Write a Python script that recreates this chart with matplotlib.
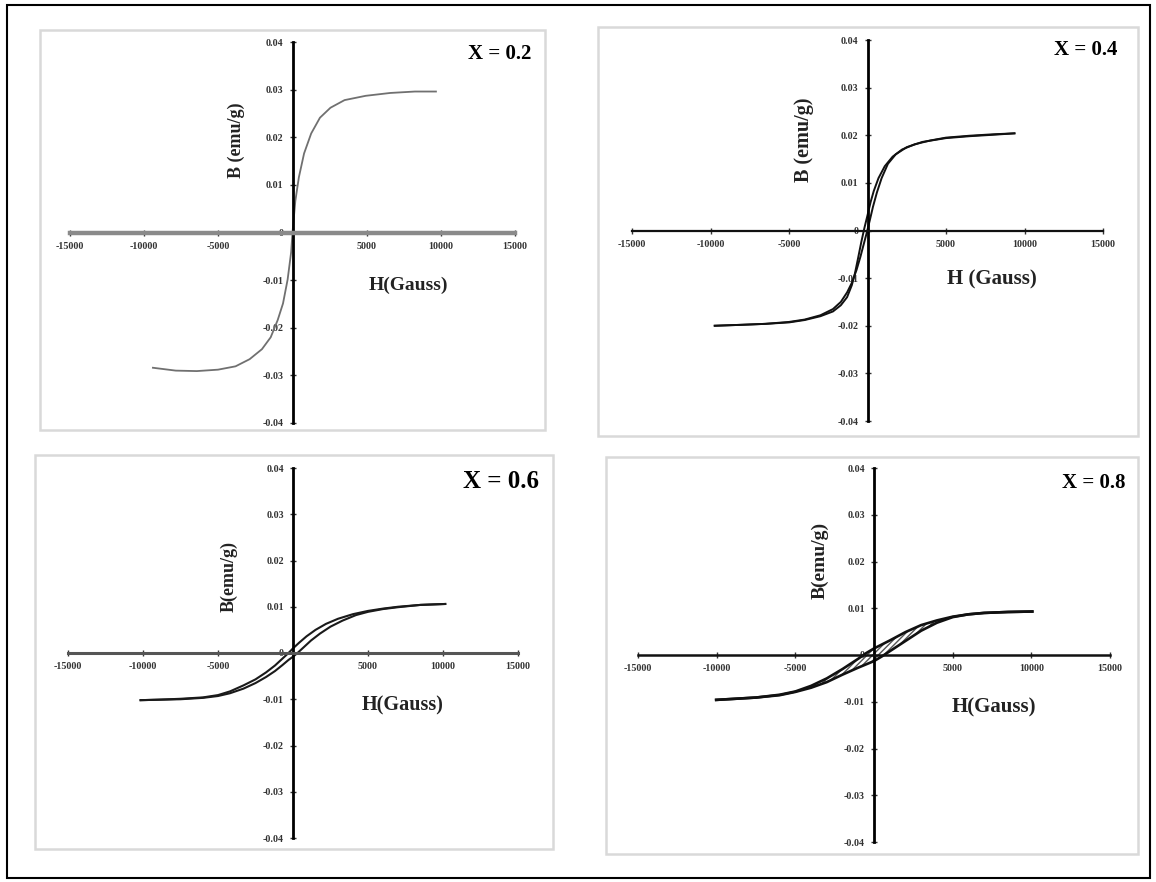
import matplotlib
matplotlib.use('Agg')
import matplotlib.pyplot as plt
from matplotlib.patches import Rectangle

W, H = 1156, 882

h_ticks = [-15000, -10000, -5000, 0, 5000, 10000, 15000]
h_tick_labels = ['-15000', '-10000', '-5000', '', '5000', '10000', '15000']
b_ticks = [-0.04, -0.03, -0.02, -0.01, 0, 0.01, 0.02, 0.03, 0.04]
b_tick_labels = ['-0.04', '-0.03', '-0.02', '-0.01', '0', '0.01', '0.02', '0.03', '0.04']

titles = ['X = 0.2', 'X = 0.4', 'X = 0.6', 'X = 0.8']
ylabels = ['B (emu/g)', 'B (emu/g)', 'B(emu/g)', 'B(emu/g)']
xlabels = ['H(Gauss)', 'H (Gauss)', 'H(Gauss)', 'H(Gauss)']

# x = 0.2 : no visible loop
h_02 = [-9410, -7870, -6450, -5020, -3840, -2890, -2060, -1470, -1000, -640, -330, -90, 0,
        190, 430, 780, 1260, 1850, 2560, 3510, 4930, 6590, 8250, 9670]
b_02 = [-0.0284, -0.0290, -0.0291, -0.0288, -0.0281, -0.0266, -0.0245, -0.0220, -0.0184, -0.0149,
        -0.0099, -0.0041, 0.0, 0.0066, 0.0116, 0.0166, 0.0208, 0.0241, 0.0262, 0.0278, 0.0287,
        0.0293, 0.0296, 0.0296]

# x = 0.4
h_04_down = [9360, 8000, 6500, 5000, 4000, 3000, 2200, 1600, 1100, 700, 400, 200, 0, -200, -400,
             -600, -800, -1000, -1300, -1700, -2200, -3000, -4000, -5000, -6500, -8000, -9730]
b_04_down = [0.0204, 0.0202, 0.0199, 0.0195, 0.0189, 0.0181, 0.0170, 0.0155, 0.0135, 0.0110, 0.0083,
             0.0060, 0.0032, 0.0005, -0.0025, -0.0058, -0.0090, -0.0115, -0.0140, -0.0157, -0.0170,
             -0.0180, -0.0188, -0.0193, -0.0196, -0.0198, -0.0200]
h_04_up = [-9730, -8000, -6500, -5000, -4000, -3000, -2200, -1700, -1300, -1000, -700, -450, -250,
           -50, 150, 350, 600, 900, 1300, 1800, 2500, 3500, 5000, 6500, 8000, 9360]
b_04_up = [-0.0200, -0.0198, -0.0196, -0.0192, -0.0187, -0.0178, -0.0165, -0.0150, -0.0130, -0.0110,
           -0.0083, -0.0055, -0.0030, -0.0005, 0.0022, 0.0050, 0.0080, 0.0110, 0.0140, 0.0160,
           0.0175, 0.0186, 0.0194, 0.0198, 0.0201, 0.0204]

# x = 0.6
h_06_down = [10150, 8500, 7000, 6000, 5000, 4000, 3000, 2200, 1500, 900, 400, 0, -300, -700, -1200,
             -1800, -2500, -3300, -4200, -5000, -6000, -7500, -9000, -10160]
b_06_down = [0.0106, 0.0104, 0.0100, 0.0096, 0.0091, 0.0084, 0.0074, 0.0063, 0.0050, 0.0036, 0.0022,
             0.0010, 0.0000, -0.0012, -0.0027, -0.0042, -0.0057, -0.0070, -0.0083, -0.0091, -0.0096,
             -0.0099, -0.0101, -0.0102]
h_06_up = [-10160, -9000, -7500, -6000, -5000, -4200, -3300, -2500, -1800, -1200, -700, -300, 0, 300,
           700, 1200, 1800, 2500, 3300, 4200, 5000, 6000, 7000, 8500, 10150]
b_06_up = [-0.0102, -0.0101, -0.0100, -0.0097, -0.0093, -0.0087, -0.0077, -0.0065, -0.0052, -0.0039,
           -0.0026, -0.0015, -0.0008, 0.0000, 0.0012, 0.0027, 0.0042, 0.0057, 0.0070, 0.0082, 0.0089,
           0.0095, 0.0099, 0.0104, 0.0106]

# x = 0.8
h_08_down = [10060, 8500, 7000, 6000, 5000, 4000, 3000, 2000, 1000, 0, -500, -1000, -2000, -3000,
             -4000, -5000, -6000, -7500, -9000, -10030]
b_08_down = [0.0093, 0.0092, 0.0090, 0.0087, 0.0082, 0.0074, 0.0064, 0.0049, 0.0031, 0.0014, 0.0004,
             -0.0008, -0.0030, -0.0050, -0.0066, -0.0078, -0.0085, -0.0091, -0.0094, -0.0096]
h_08_up = [-10030, -9000, -7500, -6000, -5000, -4000, -3000, -2000, -1000, 0, 500, 1000, 2000, 3000,
           4000, 5000, 6000, 7000, 8500, 10060]
b_08_up = [-0.0096, -0.0094, -0.0091, -0.0086, -0.0079, -0.0070, -0.0058, -0.0042, -0.0027, -0.0013,
           -0.0003, 0.0008, 0.0030, 0.0052, 0.0069, 0.0081, 0.0087, 0.0090, 0.0092, 0.0093]

branches = [
    [(h_02, b_02)],
    [(h_04_down, b_04_down), (h_04_up, b_04_up)],
    [(h_06_down, b_06_down), (h_06_up, b_06_up)],
    [(h_08_down, b_08_down), (h_08_up, b_08_up)],
]

SERIF = 'Liberation Serif'


def px(x, y):
    return x / W, 1 - y / H


fig = plt.figure(figsize=(W / 100, H / 100), dpi=100)

# outer frame
fig.add_artist(Rectangle(px(7, 878), 1143 / W, 873 / H, transform=fig.transFigure,
                         fill=False, ec='black', lw=1.5))

# panel boxes (pixels: left, top, right, bottom)
boxes = [(40, 30, 545, 430), (598, 27, 1138, 436), (35, 455, 553, 849), (606, 457, 1138, 854)]
# data areas (pixels: x of -15000, y of 0.04, x of 15000, y of -0.04)
areas = [(70, 42, 515, 423), (632, 40, 1103, 421), (68, 468, 518, 838), (638, 468, 1110, 842)]
title_pos = [(500, 54), (1086, 50), (501, 481), (1094, 483)]
title_size = [15, 15, 18, 15]
ylab_pos = [(236, 140), (804, 140), (229, 577), (820, 560)]
ylab_size = [13, 14.5, 13, 14]
xlab_pos = [(408, 285), (992, 279), (403, 705), (994, 707)]
xlab_size = [14, 15, 14.5, 15]
line_col = ['#707070', '#111111', '#1a1a1a', '#111111']
line_w = [1.3, 1.4, 1.5, 1.9]
xaxis_col = ['#8a8a8a', '#111111', '#555555', '#111111']
xaxis_w = [3.2, 1.6, 2.2, 1.8]

for i in range(4):
    bl, bt, br, bb = boxes[i]
    fig.add_artist(Rectangle(px(bl, bb), (br - bl) / W, (bb - bt) / H, transform=fig.transFigure,
                             fill=False, ec='#d9d9d9', lw=1.8))
    al, at, ar, ab = areas[i]
    x0, y0 = px(al, ab)
    ax = fig.add_axes([x0, y0, (ar - al) / W, (ab - at) / H])
    ax.set_xlim(-15000, 15000)
    ax.set_ylim(-0.04, 0.04)
    ax.patch.set_alpha(0)
    for s in ['top', 'right']:
        ax.spines[s].set_visible(False)
    ax.spines['left'].set_position(('data', 0))
    ax.spines['bottom'].set_position(('data', 0))
    ax.spines['left'].set_linewidth(2.0)
    ax.spines['left'].set_color('black')
    ax.spines['bottom'].set_linewidth(xaxis_w[i])
    ax.spines['bottom'].set_color(xaxis_col[i])
    ax.set_xticks(h_ticks)
    ax.set_xticklabels(h_tick_labels)
    ax.set_yticks(b_ticks)
    ax.set_yticklabels(b_tick_labels)
    ax.tick_params(direction='inout', length=5, width=1, colors='#333333', labelsize=7.2, pad=4)
    for lab in ax.get_xticklabels() + ax.get_yticklabels():
        lab.set_family(SERIF)
        lab.set_fontweight('bold')
    for hh, bb_ in branches[i]:
        ax.plot(hh, bb_, color=line_col[i], lw=line_w[i], solid_joinstyle='round')
    if i == 3:
        # hatched look between the two branches of the x = 0.8 loop
        loop_h = h_08_down + h_08_up
        loop_b = b_08_down + b_08_up
        ax.fill(loop_h, loop_b, fill=False, hatch='//////', lw=0, ec='#555555')

    tx, ty = px(*title_pos[i])
    fig.text(tx, ty, titles[i], family=SERIF, fontweight='bold', fontsize=title_size[i],
             ha='center', va='center')
    lx, ly = px(*ylab_pos[i])
    fig.text(lx, ly, ylabels[i], family=SERIF, fontweight='bold', fontsize=ylab_size[i], rotation=90,
             ha='center', va='center', color='#222222')
    hx, hy = px(*xlab_pos[i])
    fig.text(hx, hy, xlabels[i], family=SERIF, fontweight='bold', fontsize=xlab_size[i],
             ha='center', va='center', color='#222222')

fig.savefig('out.png', dpi=100)
